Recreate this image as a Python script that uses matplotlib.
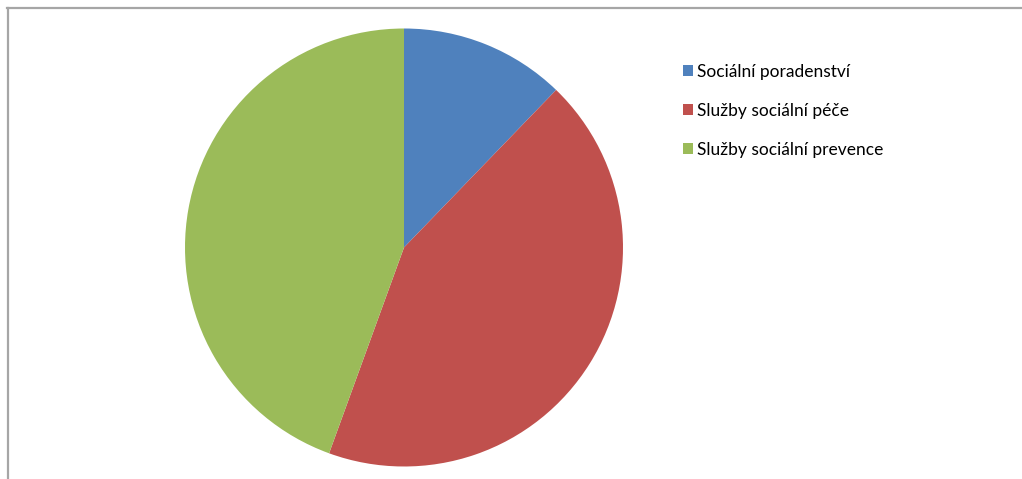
import matplotlib
matplotlib.use("Agg")
import matplotlib.pyplot as plt
from matplotlib.patches import Patch
from matplotlib.lines import Line2D

categories = ["Sociální poradenství", "Služby sociální péče", "Služby sociální prevence"]
values = [11, 39, 40]
colors = ["#4F81BD", "#C0504D", "#9BBB59"]

W, H = 1022, 479
fig = plt.figure(figsize=(W / 100, H / 100), dpi=100)
fig.patch.set_facecolor("white")

# chart border (left + top visible)
fig.add_artist(Line2D([7.5 / W, 7.5 / W], [0, 1 - 8 / H], transform=fig.transFigure,
                      color="#a6a6a6", lw=1.6))
fig.add_artist(Line2D([7 / W, 1], [1 - 8 / H, 1 - 8 / H], transform=fig.transFigure,
                      color="#a6a6a6", lw=1.6))

cx, cy, r = 404, 247.5, 219
ax = fig.add_axes([(cx - r) / W, (H - cy - r) / H, 2 * r / W, 2 * r / H])
ax.pie(values, colors=colors, startangle=90, counterclock=False, radius=1,
       wedgeprops=dict(linewidth=0))
ax.set_xlim(-1, 1)
ax.set_ylim(-1, 1)
ax.set_aspect("equal")
ax.axis("off")

handles = [Patch(facecolor=c, edgecolor="none") for c in colors]
fig.legend(handles, categories, loc="upper left", bbox_to_anchor=(683 / W, 1 - 64 / H),
           frameon=False, prop=dict(family="Lato", size=12.5),
           handlelength=0.58, handleheight=0.58, handletextpad=0.2, labelspacing=1.32,
           borderaxespad=0, borderpad=0)

fig.savefig("out.png", dpi=100)
